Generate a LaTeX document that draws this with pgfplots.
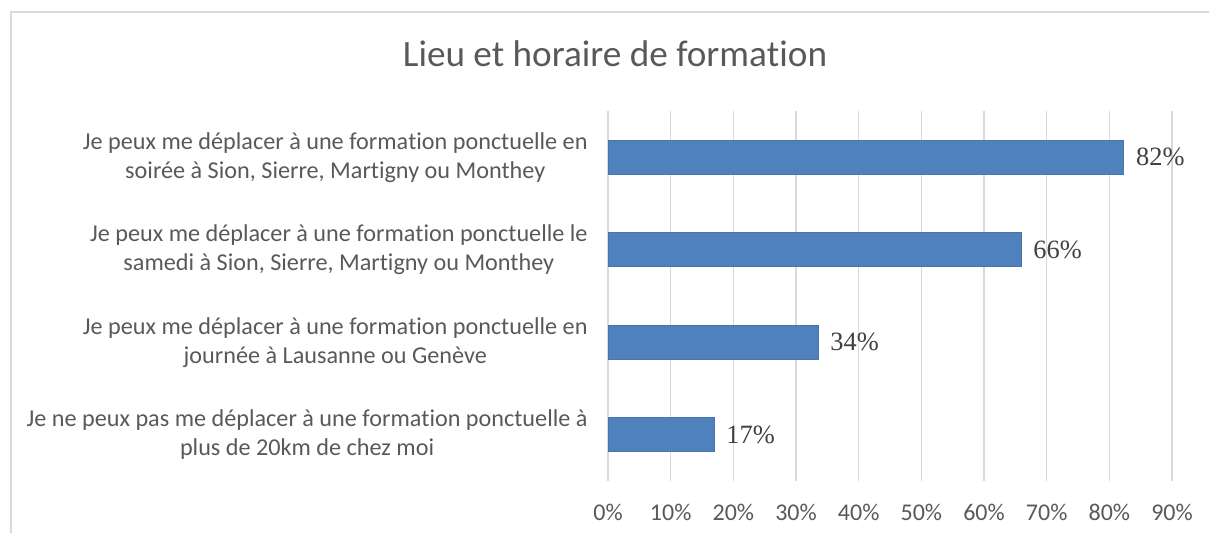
\documentclass[border=0pt]{standalone}
\usepackage{fontspec}
\setmainfont{Carlito}[RawFeature=-liga, RawFeature=-clig, RawFeature=-calt, RawFeature=-dlig]
\newfontfamily\seriffont{Liberation Serif}
\usepackage{pgfplots}
\pgfplotsset{compat=1.18}
\definecolor{barblue}{HTML}{4F81BD}
\definecolor{gridgray}{HTML}{D9D9D9}
\definecolor{txtgray}{HTML}{595959}
\definecolor{lblgray}{HTML}{404040}
\begin{document}
\begin{tikzpicture}
\path[use as bounding box] (0,0) rectangle (604.5pt,266.5pt);
\draw[gridgray, line width=0.75pt] (5.5pt,0) -- (5.5pt,260.5pt) -- (604.5pt,260.5pt);
\node[anchor=base, text=txtgray, font=\fontsize{18.6}{22}\selectfont] at (307.5pt,233pt) {Lieu et horaire de forma\kern0pt tion};
\begin{axis}[
  at={(304pt,26pt)}, anchor=south west,
  scale only axis, width=282pt, height=185pt,
  xbar, bar width=17pt,
  xmin=0, xmax=90, ymin=0.5, ymax=4.5, y dir=reverse,
  xtick={0,10,...,90}, ytick={1,2,3,4},
  xmajorgrids, major grid style={gridgray, line width=0.75pt},
  axis line style={draw=none}, major tick length=0pt,
  xticklabel={\pgfmathprintnumber[assume math mode=true]{\tick}\%},
  xticklabel style={anchor=center, yshift=-15.5pt, text=txtgray, font=\fontsize{12}{14}\selectfont},
  yticklabels={{Je peux me déplacer à une forma\kern0pt tion ponctuelle en\\soirée à Sion, Sierre, Martigny ou Monthey},
               {Je peux me déplacer à une forma\kern0pt tion ponctuelle le\\samedi à Sion, Sierre, Martigny ou Monthey},
               {Je peux me déplacer à une forma\kern0pt tion ponctuelle en\\journée à Lausanne ou Genève},
               {Je ne peux pas me déplacer à une forma\kern0pt tion ponctuelle à\\plus de 20km de chez moi}},
  yticklabel style={align=center, text=txtgray, font=\fontsize{12.1}{14.5}\selectfont, xshift=-6.7pt},
  nodes near coords={\pgfmathprintnumber[fixed,precision=0,assume math mode=true]{\pgfplotspointmeta}\%},
  nodes near coords style={text=lblgray, font=\seriffont\fontsize{13.2}{15}\selectfont, xshift=2.7pt},
  clip=false,
]
\addplot[fill=barblue, draw=barblue!90!black, line width=0.4pt] coordinates {(82.3,1) (65.9,2) (33.5,3) (16.9,4)};
\end{axis}
\end{tikzpicture}
\end{document}
